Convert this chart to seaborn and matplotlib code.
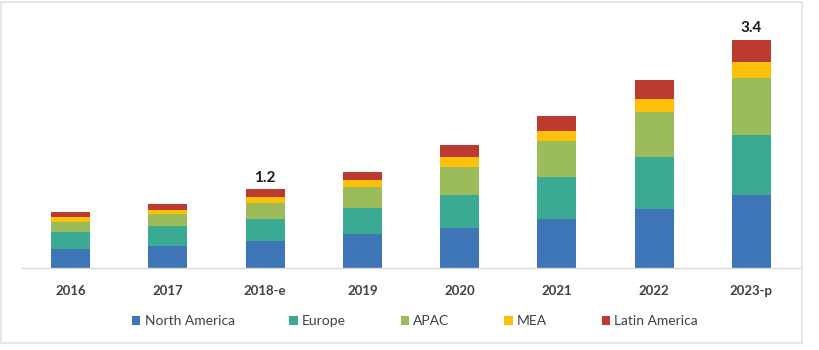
import matplotlib
matplotlib.use("Agg")
import matplotlib.pyplot as plt
import seaborn as sns
import numpy as np
from matplotlib.patches import Rectangle

years = ["2016", "2017", "2018-e", "2019", "2020", "2021", "2022", "2023-p"]
north_america = [0.285, 0.325, 0.405, 0.50, 0.595, 0.735, 0.885, 1.085]
europe = [0.25, 0.295, 0.325, 0.39, 0.50, 0.625, 0.765, 0.905]
apac = [0.15, 0.18, 0.245, 0.32, 0.415, 0.54, 0.675, 0.84]
mea = [0.075, 0.06, 0.085, 0.11, 0.14, 0.145, 0.20, 0.25]
latin_america = [0.07, 0.095, 0.115, 0.12, 0.18, 0.22, 0.275, 0.32]
total_labels = {"2018-e": "1.2", "2023-p": "3.4"}

series_names = ["North America", "Europe", "APAC", "MEA", "Latin America"]
series_values = [north_america, europe, apac, mea, latin_america]
colors = ["#3D75B6", "#3AAA93", "#9CBB5A", "#FDC10C", "#BD3A30"]

sns.set_theme(style="white")
plt.rcParams["font.family"] = ["Lato", "DejaVu Sans"]

fig = plt.figure(figsize=(8.2, 3.5), dpi=100)
ax = fig.add_axes([22 / 820, 1 - 268 / 350, 778 / 820, 258 / 350])

bottom = np.zeros(len(years))
for name, vals, col in zip(series_names, series_values, colors):
    sns.barplot(x=years, y=vals, bottom=bottom, color=col, width=0.4,
                ax=ax, label=name, saturation=1, edgecolor="none", linewidth=0)
    bottom = bottom + np.array(vals)

for i, y in enumerate(years):
    if y in total_labels:
        ax.text(i, bottom[i] + 0.07, total_labels[y], ha="center", va="bottom",
                fontsize=11, fontweight="bold", color="#1a1a1a")

ax.set_xlim(-0.5, 7.5)
ax.set_ylim(0, 3.85)
ax.set_yticks([])
ax.set_xlabel("")
ax.set_ylabel("")
for s in ["top", "left", "right"]:
    ax.spines[s].set_visible(False)
ax.spines["bottom"].set_color("#D9D9D9")
ax.spines["bottom"].set_linewidth(1)
ax.tick_params(axis="x", length=0, pad=12, labelsize=9.5, labelcolor="#404040")
for lbl in ax.get_xticklabels():
    lbl.set_fontweight("bold")

handles, labels = ax.get_legend_handles_labels()
if ax.get_legend() is not None:
    ax.get_legend().remove()
leg = fig.legend(handles, labels, loc="center", bbox_to_anchor=(415 / 820, 1 - 321 / 350),
                 ncol=5, frameon=False, fontsize=10, handlelength=0.6,
                 handleheight=0.6, handletextpad=0.3, columnspacing=3.95)
for t in leg.get_texts():
    t.set_color("#404040")

fig.patches.append(Rectangle((0.001, 0.02), 0.977, 0.975, transform=fig.transFigure,
                             fill=False, edgecolor="#E3E3E3", linewidth=1.2))

fig.savefig("out.png", dpi=100)
